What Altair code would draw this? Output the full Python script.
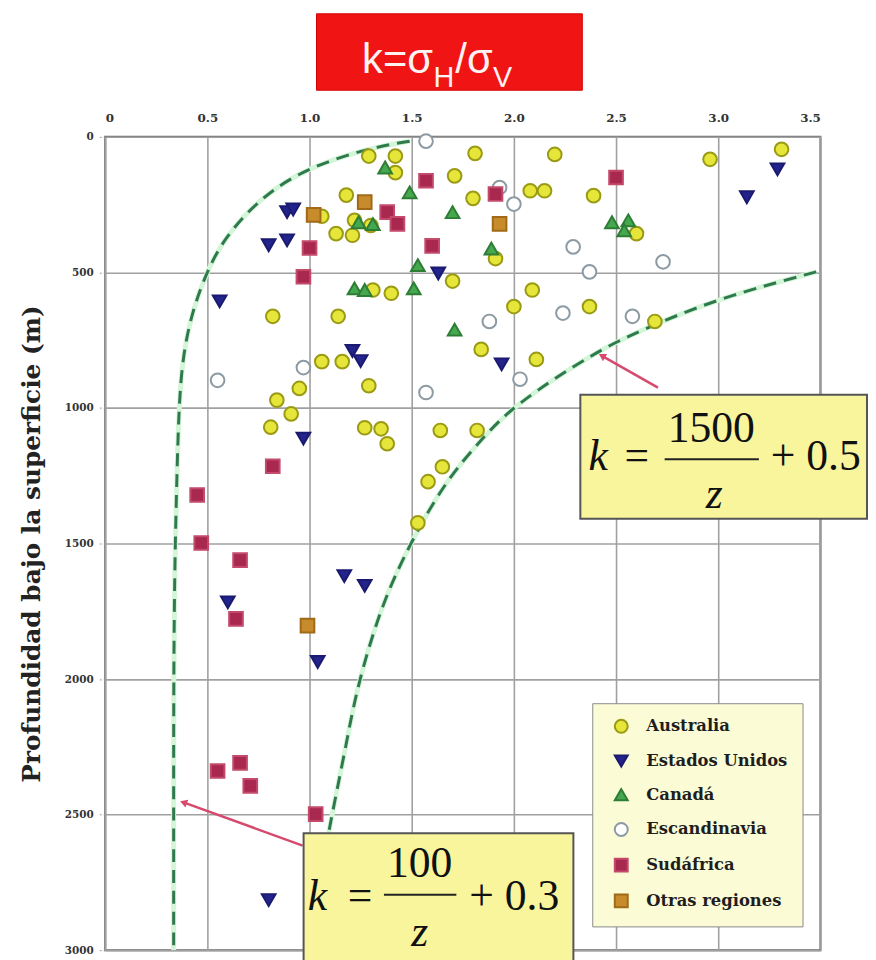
import altair as alt
import pandas as pd

# ---------------- data ----------------
REGIONS = ["Australia", "Estados Unidos", "Canadá", "Escandinavia", "Sudáfrica", "Otras regiones"]

AUS_K = [1.29, 1.42, 1.42, 1.81, 1.71, 1.18, 1.80, 1.06, 1.22, 1.30, 1.13, 1.21, 1.70, 1.31, 1.40,
         0.82, 1.14, 1.06, 1.16, 1.29, 0.95, 1.84, 0.84, 0.91, 2.20, 2.96, 3.31, 2.08, 2.15, 2.39,
         2.60, 1.91, 2.09, 2.00, 2.37, 2.69, 2.11, 0.81, 1.27, 1.35, 1.38, 1.64, 1.82, 1.65, 1.58, 1.53]
AUS_Z = [71, 71, 132, 61, 144, 215, 227, 293, 308, 327, 357, 363, 532, 565, 577,
         662, 662, 829, 829, 918, 928, 784, 971, 1022, 65, 83, 46, 199, 199, 217,
         357, 449, 565, 626, 626, 681, 821, 1071, 1073, 1077, 1132, 1083, 1083, 1217, 1272, 1424]

US_K = [0.89, 0.92, 0.80, 0.89, 0.56, 1.63, 1.21, 1.25, 1.94, 3.29, 3.14, 0.97, 1.17, 1.27, 0.60, 1.04, 0.80]
US_Z = [278, 268, 400, 382, 607, 504, 790, 827, 839, 120, 223, 1113, 1620, 1656, 1717, 1937, 2815]

CAN_K = [1.37, 1.49, 1.70, 1.53, 1.22, 1.27, 1.51, 1.71, 1.89, 2.48, 2.56, 2.54, 1.24, 1.31]
CAN_Z = [113, 205, 278, 473, 559, 565, 559, 711, 412, 315, 308, 345, 315, 322]

ESC_K = [0.55, 0.97, 1.57, 1.88, 1.93, 2.00, 2.29, 2.37, 2.73, 2.24, 2.58, 2.03, 1.57]
ESC_Z = [898, 851, 943, 681, 187, 248, 406, 498, 461, 650, 662, 894, 16]

SUD_K = [1.57, 1.91, 1.38, 1.43, 1.00, 0.97, 1.60, 2.50, 0.82, 0.45, 0.47, 0.66, 0.64, 0.55, 0.66, 0.71, 1.03]
SUD_Z = [162, 211, 278, 321, 410, 516, 402, 150, 1215, 1321, 1498, 1561, 1778, 2339, 2309, 2394, 2498]

OTR_K = [1.02, 1.27, 1.93, 0.99]
OTR_Z = [288, 241, 321, 1803]

# dashed envelope curves (k = 100/z + 0.3 and k = 1500/z + 0.5)
C1_K = [1.49, 1.30, 0.99, 0.76, 0.58, 0.50, 0.43, 0.38, 0.36, 0.35, 0.34, 0.335, 0.335, 0.335]
C1_Z = [16, 40, 113, 223, 376, 494, 632, 802, 1000, 1278, 1583, 2000, 2486, 3000]
C2_K = [3.48, 3.00, 2.61, 2.39, 2.00, 1.85, 1.67, 1.52, 1.36, 1.23, 1.18, 1.09, 1.04, 1.00]
C2_Z = [498, 595, 717, 797, 990, 1108, 1266, 1461, 1705, 2034, 2242, 2571, 2800, 3000]

# annotation arrows (tail -> head)
ARR_K0 = [0.966, 2.705]
ARR_Z0 = [2614, 925]
ARR_K1 = [0.383, 2.431]
ARR_Z1 = [2455, 808]
ARR_ANG = [20, 30]

X_TICKS = [0, 0.5, 1.0, 1.5, 2.0, 2.5, 3.0, 3.5]
Y_TICKS = [0, 500, 1000, 1500, 2000, 2500, 3000]

FILLS = ["#e6e63a", "#23238c", "#45a84f", "#ffffff", "#a82850", "#c88b2c"]
STROKES = ["#9a9a14", "#1a1a70", "#2e7d35", "#8c9aa3", "#c44a6c", "#a06a18"]
SHAPES = ["circle", "triangle-down", "triangle-up", "circle", "square", "square"]

# ---------------- tables ----------------
rows = []
for reg, ks, zs in zip(REGIONS, [AUS_K, US_K, CAN_K, ESC_K, SUD_K, OTR_K],
                       [AUS_Z, US_Z, CAN_Z, ESC_Z, SUD_Z, OTR_Z]):
    for k, z in zip(ks, zs):
        rows.append({"k": k, "z": z, "region": reg})
pts = pd.DataFrame(rows)

curves = pd.DataFrame(
    [{"k": k, "z": z, "c": "a", "i": i} for i, (k, z) in enumerate(zip(C1_K, C1_Z))]
    + [{"k": k, "z": z, "c": "b", "i": i} for i, (k, z) in enumerate(zip(C2_K, C2_Z))]
)
arrows = pd.DataFrame({"k": ARR_K0, "z": ARR_Z0, "k2": ARR_K1, "z2": ARR_Z1})
heads = pd.DataFrame({"k": ARR_K1, "z": ARR_Z1, "ang": ARR_ANG})
one = pd.DataFrame({"a": [0]})

W, H = 721, 820

x_enc = alt.X("k:Q", scale=alt.Scale(domain=[0, 3.5], nice=False, zero=False),
              axis=alt.Axis(orient="top", values=X_TICKS, title=None, ticks=False, labelPadding=12,
                            labelExpr="datum.value == 0 ? '0' : format(datum.value, '.1f')",
                            labelFontSize=12))
y_enc = alt.Y("z:Q", scale=alt.Scale(domain=[0, 3000], reverse=True, nice=False, zero=False),
              axis=alt.Axis(values=Y_TICKS, format="d", title="Profundidad bajo la superficie (m)",
                            titleFont="DejaVu Serif", titleFontWeight="bold", titleFontSize=25,
                            titleColor="#222", titlePadding=20, labelFontSize=10.5, labelPadding=4,
                            ticks=True, tickSize=8, tickColor="#999", tickDash=[2, 2]))

halo = alt.Chart(curves).mark_line(color="#d4f5d8", strokeWidth=5, interpolate="basis", clip=True).encode(
    x=x_enc, y=y_enc, detail="c:N", order="i:Q")
dashed = alt.Chart(curves).mark_line(color="#2f7a4c", strokeWidth=3, strokeDash=[13, 8],
                                     interpolate="basis", clip=True).encode(
    x=x_enc, y=y_enc, detail="c:N", order="i:Q")

arrow_lines = alt.Chart(arrows).mark_rule(color="#d64a6e", strokeWidth=2.5).encode(
    x=x_enc, y=y_enc, x2="k2:Q", y2="z2:Q")
arrow_heads = alt.Chart(heads).mark_point(shape="triangle-left", filled=True, color="#d64a6e",
                                          size=70, opacity=1).encode(
    x=x_enc, y=y_enc, angle=alt.Angle("ang:Q", scale=None))

leg = alt.Legend(title=None, orient="none", legendX=491, legendY=571, fillColor="#fbfbd6",
                 strokeColor="#8a8a8a", padding=15, rowPadding=14, symbolSize=170,
                 symbolStrokeWidth=2, symbolOffset=6, labelFont="DejaVu Serif", labelFontWeight="bold",
                 labelFontSize=16.5, labelColor="#1e1e1e", labelOffset=17, cornerRadius=0)

points = alt.Chart(pts).mark_point(filled=True, size=190, strokeWidth=2, opacity=1).encode(
    x=x_enc, y=y_enc,
    fill=alt.Fill("region:N", scale=alt.Scale(domain=REGIONS, range=FILLS), legend=leg),
    stroke=alt.Stroke("region:N", scale=alt.Scale(domain=REGIONS, range=STROKES), legend=leg),
    shape=alt.Shape("region:N", scale=alt.Scale(domain=REGIONS, range=SHAPES), legend=leg),
)


def box(x0, x1, y0, y1, fill, stroke, sw):
    return alt.Chart(one).mark_rect(fill=fill, stroke=stroke, strokeWidth=sw).encode(
        x=alt.value(x0), x2=alt.value(x1), y=alt.value(y0), y2=alt.value(y1))


def txt(s, x, y, size, font="Liberation Serif", style="normal", weight="normal", color="#111", align="center"):
    return alt.Chart(one).mark_text(font=font, fontSize=size, fontStyle=style, fontWeight=weight,
                                    color=color, align=align, baseline="alphabetic").encode(
        x=alt.value(x), y=alt.value(y), text=alt.value(s))


def hline(x0, x1, y):
    return alt.Chart(one).mark_rule(color="#222", strokeWidth=2).encode(
        x=alt.value(x0), x2=alt.value(x1), y=alt.value(y))


# title box
TC = "#fff2f2"
title_layers = [
    box(213, 481, -124, -47, "#f01414", "#d00000", 1),
    txt("k=σ", 259, -64, 42, font="Liberation Sans", color=TC, align="left"),
    txt("H", 331, -50, 29, font="Liberation Sans", color=TC, align="left"),
    txt("/σ", 353, -64, 42, font="Liberation Sans", color=TC, align="left"),
    txt("V", 391, -50, 29, font="Liberation Sans", color=TC, align="left"),
]

# formula boxes
f1 = [
    box(479, 768, 260, 385, "#f9f59c", "#555", 2),
    txt("k", 497, 336, 44, style="italic"),
    txt("=", 536, 336, 44),
    txt("1500", 611, 308, 44),
    hline(564, 659, 325),
    txt("z", 614, 374, 44, style="italic"),
    txt("+ 0.5", 671, 336, 44, align="left"),
]
f2 = [
    box(200, 472, 702, 832, "#f9f59c", "#555", 2),
    txt("k", 214, 779, 44, style="italic"),
    txt("=", 257, 779, 44),
    txt("100", 317, 746, 44),
    hline(281, 354, 764),
    txt("z", 317, 816, 44, style="italic"),
    txt("+ 0.3", 367, 779, 44, align="left"),
]

chart = alt.layer(halo, dashed, arrow_lines, arrow_heads, points, *f1, *f2, *title_layers).properties(
    width=W, height=H,
    autosize=alt.AutoSizeParams(type="none"),
    padding={"left": 98, "top": 126, "right": 48, "bottom": 6},
    background="white",
).configure_view(stroke="#6b6b6b", strokeWidth=2).configure_axis(
    gridColor="#a0a0a0", gridWidth=1.6, domain=False, labelColor="#333",
    labelFont="DejaVu Serif", labelFontWeight="bold")

chart.save("out.html", embed_options={"renderer": "svg", "actions": False})
